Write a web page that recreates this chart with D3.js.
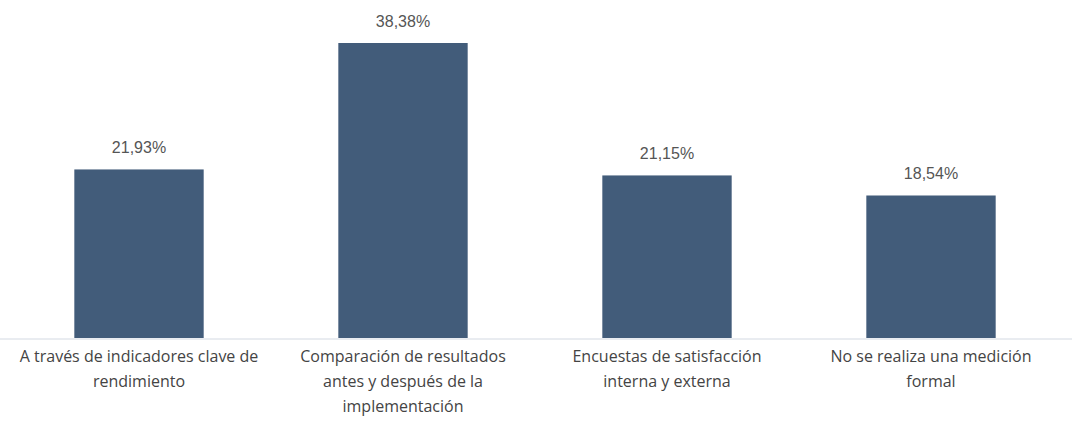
<!DOCTYPE html>
<html>
<head>
<meta charset="utf-8">
<script src="https://cdn.jsdelivr.net/npm/d3@7"></script>
<style>
  body { margin: 0; background: #fff; }
  .value-label { font-family: "Liberation Sans", Arial, sans-serif; font-size: 16px; fill: #555; }
  .cat-label { font-family: "Open Sans", sans-serif; font-size: 16px; fill: #444; }
</style>
</head>
<body>
<div id="canvas"></div>
<script>
const categories = ["c1", "c2", "c3", "c4"];
const catLines = [
  ["A través de indicadores clave de", "rendimiento"],
  ["Comparación de resultados", "antes y después de la", "implementación"],
  ["Encuestas de satisfacción", "interna y externa"],
  ["No se realiza una medición", "formal"]
];
const values = [21.93, 38.38, 21.15, 18.54];
const valueLabels = ["21,93%", "38,38%", "21,15%", "18,54%"];

const w = 1072;
const h = 430;
const baseY = 338;

const svg = d3.select("#canvas")
              .append("svg")
              .attr("width", w)
              .attr("height", h);

const x = d3.scaleBand()
            .domain(categories)
            .range([7, 1063])
            .paddingInner(0.51)
            .paddingOuter(0.255);

const y = d3.scaleLinear()
            .domain([0, 38.38])
            .range([baseY, 43]);

//baseline
svg.append("line")
   .attr("x1", 0)
   .attr("x2", w)
   .attr("y1", baseY + 1)
   .attr("y2", baseY + 1)
   .style("stroke", "#d3d9e2")
   .style("stroke-width", 1);

svg.selectAll(".bar")
   .data(values)
   .enter()
   .append("rect")
   .classed("bar", true)
   .attr("x", function(d, i){ return x(categories[i]); })
   .attr("y", function(d){ return y(d); })
   .attr("width", x.bandwidth())
   .attr("height", function(d){ return baseY - y(d); })
   .style("fill", "#425c7a");

svg.selectAll(".value-label")
   .data(values)
   .enter()
   .append("text")
   .classed("value-label", true)
   .attr("x", function(d, i){ return x(categories[i]) + x.bandwidth() / 2; })
   .attr("y", function(d){ return y(d) - 16; })
   .attr("text-anchor", "middle")
   .text(function(d, i){ return valueLabels[i]; });

const cats = svg.selectAll(".cat-label")
   .data(catLines)
   .enter()
   .append("text")
   .classed("cat-label", true)
   .attr("text-anchor", "middle")
   .attr("transform", function(d, i){
     return "translate(" + (x(categories[i]) + x.bandwidth() / 2) + "," + 362 + ")";
   });

cats.selectAll("tspan")
   .data(function(d){ return d; })
   .enter()
   .append("tspan")
   .attr("x", 0)
   .attr("y", function(d, i){ return i * 25; })
   .text(function(d){ return d; });
</script>
</body>
</html>
